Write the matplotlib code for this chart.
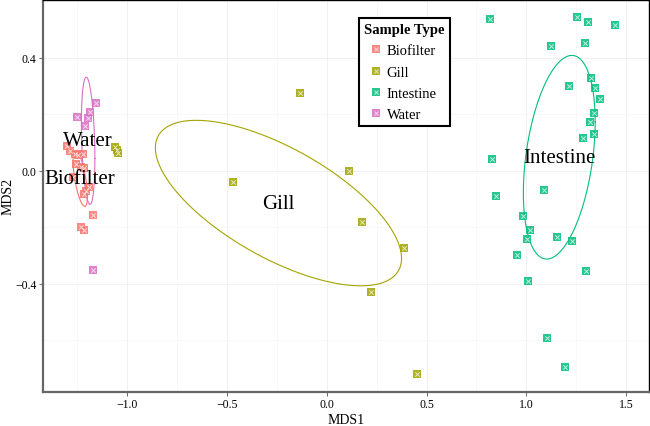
import numpy as np
import matplotlib
matplotlib.use('agg')
import matplotlib.pyplot as plt
from matplotlib.lines import Line2D

plt.rcParams['font.family'] = ['Liberation Serif', 'DejaVu Serif']

# MDS coordinates
bio_x = [-1.303, -1.288, -1.263, -1.248, -1.222, -1.258, -1.232, -1.217, -1.273,
         -1.192, -1.207, -1.217, -1.172, -1.232, -1.217]
bio_y = [0.088, 0.071, 0.060, 0.057, 0.060, 0.025, 0.014, 0.011, -0.021,
         -0.057, -0.071, -0.081, -0.156, -0.198, -0.209]
gill_x = [-1.062, -1.052, -1.047, -0.471, -0.135, 0.110, 0.175, 0.386, 0.220, 0.451]
gill_y = [0.085, 0.074, 0.064, -0.039, 0.276, 0.000, -0.181, -0.273, -0.428, -0.719]
int_x = [0.817, 1.253, 1.308, 1.443, 1.122, 1.293, 1.323, 1.212, 1.343, 1.368,
         1.338, 1.318, 1.338, 1.283, 0.827, 0.847, 1.087, 0.982, 1.017, 1.002,
         1.152, 1.227, 0.952, 1.298, 1.007, 1.102, 1.192]
int_y = [0.538, 0.545, 0.527, 0.517, 0.442, 0.453, 0.329, 0.301, 0.294, 0.255,
         0.205, 0.173, 0.131, 0.117, 0.042, -0.088, -0.067, -0.159, -0.209, -0.241,
         -0.234, -0.248, -0.297, -0.354, -0.389, -0.591, -0.694]
wat_x = [-1.253, -1.212, -1.197, -1.187, -1.157, -1.172]
wat_y = [0.191, 0.159, 0.188, 0.209, 0.241, -0.350]

groups = ['Biofilter', 'Gill', 'Intestine', 'Water']
xs = [bio_x, gill_x, int_x, wat_x]
ys = [bio_y, gill_y, int_y, wat_y]
colors = ['#F8766D', '#A3A500', '#00BF7D', '#DA6FC4']


def sd_ellipse(x, y, seg=100):
    # one standard deviation ellipse around the group centroid
    cov = np.cov(x, y)
    a = np.linspace(0, 2 * np.pi, seg + 1)
    circ = np.column_stack([np.cos(a), np.sin(a)])
    e = np.array([np.mean(x), np.mean(y)]) + circ @ np.linalg.cholesky(cov).T
    return e[:, 0], e[:, 1]


fig = plt.figure(figsize=(6.5, 4.27), dpi=100)
ax = fig.add_axes([0.066, 0.080, 0.932, 0.918])

handles = []
for g, x, y, c in zip(groups, xs, ys, colors):
    ax.scatter(x, y, marker='s', s=36, color=c, alpha=0.85, linewidths=0, zorder=3)
    ax.scatter(x, y, marker='x', s=10, color='white', linewidths=0.7, alpha=0.7, zorder=4)
    ex, ey = sd_ellipse(x, y)
    ax.plot(ex, ey, color=c, lw=0.8, zorder=2)
    ax.text(np.mean(x), np.mean(y), g, fontsize=15, ha='center', va='center', zorder=5)
    h1 = Line2D([], [], marker='s', ls='', ms=5.5, color=c, alpha=0.85, mew=0)
    h2 = Line2D([], [], marker='x', ls='', ms=3, color='white', mew=0.7, alpha=0.7)
    handles.append((h1, h2))

ax.set_xlim(-1.423, 1.613)
ax.set_ylim(-0.782, 0.605)
ax.set_xticks([-1.0, -0.5, 0.0, 0.5, 1.0, 1.5])
ax.set_yticks([-0.4, 0.0, 0.4])
ax.set_xticks([-1.25, -0.75, -0.25, 0.25, 0.75, 1.25], minor=True)
ax.set_yticks([-0.6, -0.2, 0.2], minor=True)
ax.grid(which='major', color='#ececec', lw=0.5)
ax.grid(which='minor', color='#f4f4f4', lw=0.4)
ax.set_axisbelow(True)
ax.tick_params(which='major', labelsize=8.5, length=3, width=0.6, color='#555555', pad=1.5)
ax.tick_params(which='minor', length=0)
for s in ['left', 'bottom']:
    ax.spines[s].set_color('#666666')
    ax.spines[s].set_linewidth(1.6)
for s in ['top', 'right']:
    ax.spines[s].set_color('black')
    ax.spines[s].set_linewidth(1.0)
ax.set_xlabel('MDS1', fontsize=10, labelpad=2)
ax.set_ylabel('MDS2', fontsize=10, labelpad=0.5)

leg = ax.legend(handles, groups, title='Sample Type', loc='upper left',
                bbox_to_anchor=(0.51, 0.972), fontsize=10.5, title_fontsize=10.5,
                fancybox=False, edgecolor='black', framealpha=1,
                handlelength=0.5, handletextpad=0.5, labelspacing=0.55,
                borderpad=0.35)
leg.get_title().set_fontweight('bold')
leg.get_frame().set_linewidth(1.5)

plt.savefig('out.png', dpi=100)
